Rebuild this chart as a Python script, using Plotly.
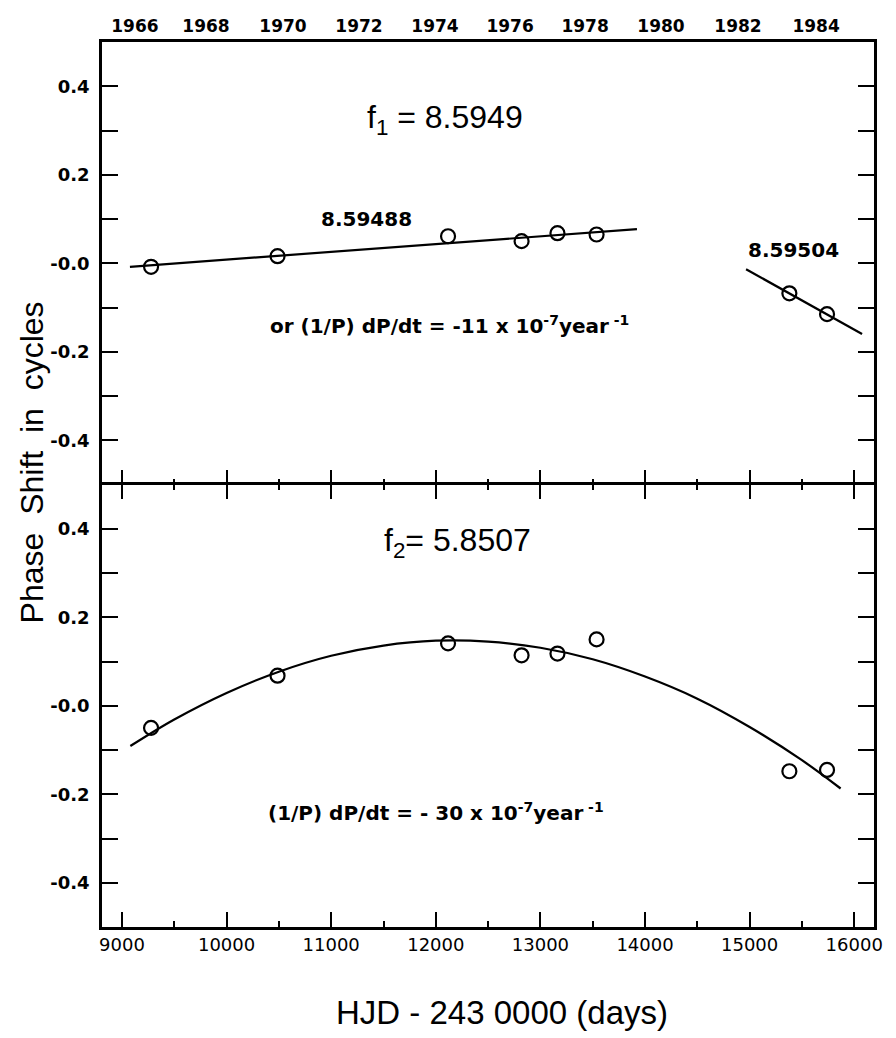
import plotly.graph_objects as go

# ---------------- data ----------------
hjd_obs = [9278, 10487, 12117, 12820, 13163, 13537, 15380, 15740]
phase_f1 = [-0.008, 0.016, 0.061, 0.050, 0.068, 0.065, -0.068, -0.115]
phase_f2 = [-0.050, 0.068, 0.141, 0.114, 0.118, 0.150, -0.148, -0.145]

# fitted lines
fit1a_x = [9076, 13923]
fit1a_y = [-0.008, 0.077]
fit1b_x = [14966, 16075]
fit1b_y = [-0.0135, -0.160]

fit2_x = [9080, 9500, 10000, 10500, 11000, 11500, 12000, 12500, 13000,
          13500, 14000, 14500, 15000, 15500, 15870]
fit2_y = [-0.091, -0.031, 0.029, 0.077, 0.113, 0.136, 0.147, 0.145, 0.131,
          0.105, 0.066, 0.016, -0.048, -0.123, -0.187]

x_ticks = [9000, 10000, 11000, 12000, 13000, 14000, 15000, 16000]
x_ticktext = ["9000", "10000", "11000", "12000", "13000", "14000", "15000", "16000"]

year_pos = [9124, 9803, 10539, 11266, 11992, 12710, 13427, 14153, 14889, 15635]
year_text = ["1966", "1968", "1970", "1972", "1974", "1976", "1978", "1980", "1982", "1984"]

y_ticks = [-0.4, -0.3, -0.2, -0.1, 0.0, 0.1, 0.2, 0.3, 0.4]
y_ticktext = ["-0.4", "", "-0.2", "", "-0.0", "", "0.2", "", "0.4"]

x_range = [8809, 16189]
y_range = [-0.5, 0.5]

# ---------------- figure ----------------
fig = go.Figure()

marker = dict(symbol="circle-open", size=14, color="black", line=dict(width=2.2, color="black"))
line = dict(color="black", width=2.2)

# top panel (f1)
fig.add_trace(go.Scatter(x=fit1a_x, y=fit1a_y, mode="lines", line=line, xaxis="x2", yaxis="y2"))
fig.add_trace(go.Scatter(x=fit1b_x, y=fit1b_y, mode="lines", line=line, xaxis="x2", yaxis="y2"))
fig.add_trace(go.Scatter(x=hjd_obs, y=phase_f1, mode="markers", marker=marker, xaxis="x2", yaxis="y2"))
# invisible trace to show the year axis
fig.add_trace(go.Scatter(x=[x_range[0]], y=[0], mode="markers", marker=dict(opacity=0),
                         xaxis="x3", yaxis="y2", hoverinfo="skip"))

# bottom panel (f2)
fig.add_trace(go.Scatter(x=fit2_x, y=fit2_y, mode="lines",
                         line=dict(color="black", width=2.2, shape="spline"),
                         xaxis="x", yaxis="y"))
fig.add_trace(go.Scatter(x=hjd_obs, y=phase_f2, mode="markers", marker=marker, xaxis="x", yaxis="y"))

tickfont_y = dict(family="DejaVu Sans", size=18, color="black", weight="bold")
axis_common = dict(showgrid=False, zeroline=False, linecolor="black", linewidth=2.5)

fig.update_layout(
    width=896, height=1038,
    margin=dict(l=102, r=22, t=42, b=111),
    paper_bgcolor="white", plot_bgcolor="white",
    showlegend=False,
    xaxis=dict(domain=[0, 1], anchor="y", range=x_range, tickvals=x_ticks, ticktext=x_ticktext,
               showline=True, ticks="inside", ticklen=15, tickwidth=2, tickcolor="black",
               minor=dict(dtick=500, ticks="inside", ticklen=6, tickwidth=2, tickcolor="black"),
               mirror="ticks", tickfont=dict(family="DejaVu Sans", size=18, color="black"),
               **axis_common),
    xaxis2=dict(domain=[0, 1], anchor="y2", matches="x", range=x_range, tickvals=x_ticks,
                showline=False, showticklabels=False, ticks="inside", ticklen=15, tickwidth=2,
                tickcolor="black",
                minor=dict(dtick=500, ticks="inside", ticklen=6, tickwidth=2, tickcolor="black"),
                **axis_common),
    xaxis3=dict(overlaying="x2", anchor="y2", side="top", range=x_range, matches="x",
                tickvals=year_pos, ticktext=year_text, ticks="", showline=True,
                tickfont=dict(family="DejaVu Sans", size=17, color="black", weight="bold"),
                **axis_common),
    yaxis=dict(domain=[0, 0.5], anchor="x", range=y_range, tickvals=y_ticks, ticktext=y_ticktext,
               showline=True, ticks="inside", ticklen=16, tickwidth=2, tickcolor="black",
               mirror="ticks", tickfont=tickfont_y, ticklabelstandoff=6, **axis_common),
    yaxis2=dict(domain=[0.5, 1], anchor="x2", range=y_range, tickvals=y_ticks, ticktext=y_ticktext,
                showline=True, ticks="inside", ticklen=16, tickwidth=2, tickcolor="black",
                mirror="ticks", tickfont=tickfont_y, ticklabelstandoff=6, **axis_common),
)

ann_big = dict(family="Liberation Sans", size=32, color="black")
ann_bold = dict(family="DejaVu Sans", size=20, color="black", weight="bold")
ann_eq = dict(family="DejaVu Sans", size=20, color="black", weight="bold")

fig.add_annotation(x=12088, y=0.325, xref="x2", yref="y2", text="f<sub>1</sub> = 8.5949",
                   showarrow=False, font=ann_big)
fig.add_annotation(x=11342, y=0.101, xref="x2", yref="y2", text="8.59488",
                   showarrow=False, font=ann_bold)
fig.add_annotation(x=15415, y=0.029, xref="x2", yref="y2", text="8.59504",
                   showarrow=False, font=ann_bold)
fig.add_annotation(x=12130, y=-0.140, xref="x2", yref="y2",
                   text="or (1/P) dP/dt = -11 x 10<sup>-7</sup>year<sup> -1</sup>",
                   showarrow=False, font=ann_eq)

fig.add_annotation(x=12203, y=0.368, xref="x", yref="y", text="f<sub>2</sub>= 5.8507",
                   showarrow=False, font=ann_big)
fig.add_annotation(x=12000, y=-0.240, xref="x", yref="y",
                   text="(1/P) dP/dt = - 30 x 10<sup>-7</sup>year<sup> -1</sup>",
                   showarrow=False, font=ann_eq)

# axis titles
fig.add_annotation(x=0, y=0.525, xref="paper", yref="paper", xanchor="center", yanchor="middle",
                   xshift=-70, text="Phase  Shift  in  cycles", textangle=-90, showarrow=False,
                   font=dict(family="Liberation Sans", size=32, color="black"))
fig.add_annotation(x=0.5, y=0, xref="paper", yref="paper", xanchor="center", yanchor="middle",
                   xshift=14, yshift=-85, text="HJD - 243 0000 (days)", showarrow=False,
                   font=dict(family="Liberation Sans", size=33, color="black"))

fig.write_html("out.html")
